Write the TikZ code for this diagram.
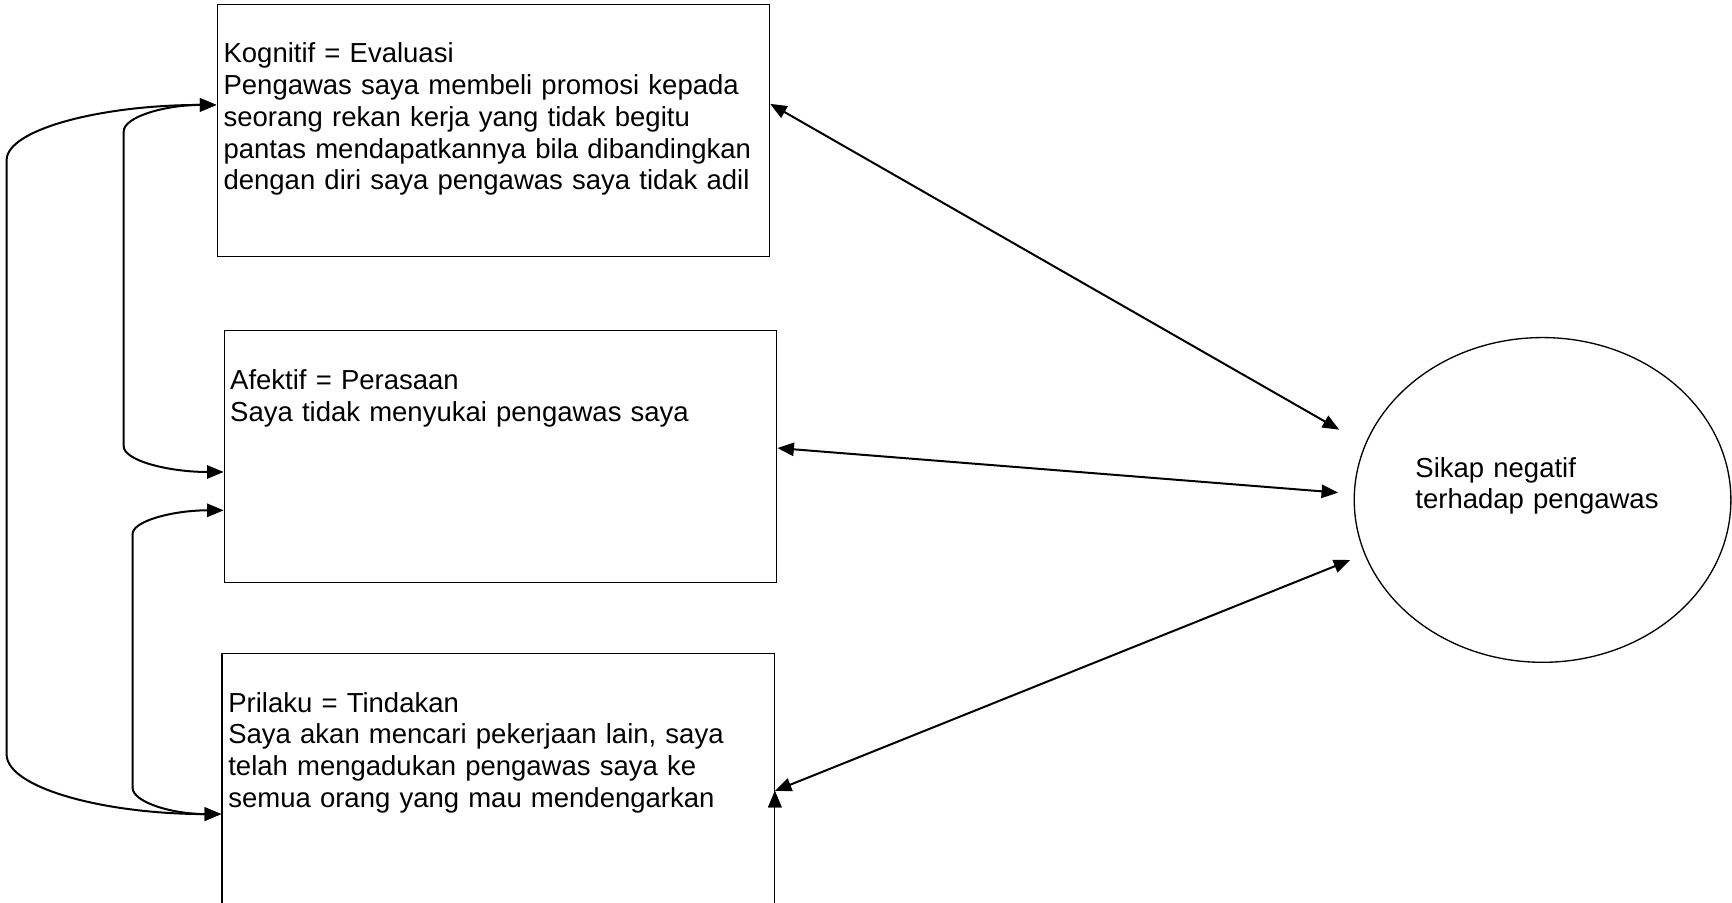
\documentclass[tikz,border=0pt]{standalone}
\usepackage{fontspec}
\setmainfont{Liberation Sans}
\usetikzlibrary{shapes.geometric, arrows.meta}
\tikzset{
x=0.5pt, y=-0.5pt, % one unit is one pixel of the sketch, y runs downwards
>={Triangle[length=7.5pt, width=6pt]}, % plain filled heads
box/.style={draw, line width=0.6pt, minimum width=250pt, minimum height=114pt, anchor=north west, inner sep=0pt}, % the three boxes
txt/.style={anchor=base west, align=left, inner sep=0pt, font=\fontsize{12.45pt}{14.35pt}\selectfont}, % text starts on the second line of a box
link/.style={<->, line width=0.9pt}, % every connector has two heads
}

\begin{document}
\begin{tikzpicture}
    \useasboundingbox (0,0) rectangle (1568,817);
    \node[box] (kog) at (196,3.6) {};
    \node[box] (afe) at (202.5,298.8) {};
    \node[box] (pri) at (200.3,590.9) {};
    \node[ellipse, draw, line width=0.6pt, minimum width=170.5pt, minimum height=147pt] (sikap) at (1396.5,452.6) {};
    \node[txt, text width=245pt] (kogtxt) at ([shift={(6,53.4)}]kog.north west) {Kognitif = Evaluasi\\Pengawas saya membeli promosi kepada\\seorang rekan kerja yang tidak begitu\\pantas mendapatkannya bila dibandingkan\\dengan diri saya pengawas saya tidak adil};
    \node[txt, text width=245pt] (afetxt) at ([shift={(5.5,54)}]afe.north west) {Afektif = Perasaan\\Saya tidak menyukai pengawas saya};
    \node[txt, text width=245pt] (pritxt) at ([shift={(6,53.7)}]pri.north west) {Prilaku = Tindakan\\Saya akan mencari pekerjaan lain, saya\\telah mengadukan pengawas saya ke\\semua orang yang mau mendengarkan};
    \node[txt, text width=120pt] (sikaptxt) at (1281,432) {Sikap negatif\\terhadap pengawas};
    % where the connectors meet the boxes
    \coordinate (kog-r) at ([shift={(0,90.4)}]kog.north east);
    \coordinate (afe-r) at ([shift={(0,106.8)}]afe.north east);
    \coordinate (pri-r) at ([shift={(0,125.1)}]pri.north east);
    \coordinate (kog-l) at ([shift={(0,91.4)}]kog.north west);
    \coordinate (afe-la) at ([shift={(0,128.5)}]afe.north west);
    \coordinate (afe-lb) at ([shift={(0,163.2)}]afe.north west);
    \coordinate (pri-l) at ([shift={(0,146.1)}]pri.north west);
    \coordinate (sik-a) at ([shift={(-13,-63.6)}]sikap.west);
    \coordinate (sik-b) at ([shift={(-14,-6.6)}]sikap.west);
    \coordinate (sik-c) at ([shift={(-3,54.4)}]sikap.west);
    \draw[link]
    (kog-r) edge (sik-a)
    (afe-r) edge (sik-b)
    (pri-r) edge (sik-c);
    % loops on the left
    \draw[link] (kog-l) .. controls +(-105,0) and +(0,-27.6) .. (6,145) -- (6,683) .. controls +(0,29.8) and +(-107.3,0) .. (pri-l);
    \draw[link] (kog-l) .. controls +(-46.4,0) and +(0,-13.3) .. (112,119) -- (112,404) .. controls +(0,12.9) and +(-50,0) .. (afe-la);
    \draw[link] (afe-lb) .. controls +(-45.6,0) and +(0,-11.9) .. (120,483.5) -- (120,713) .. controls +(0,13.3) and +(-44.3,0) .. (pri-l);
\end{tikzpicture}
\end{document}
